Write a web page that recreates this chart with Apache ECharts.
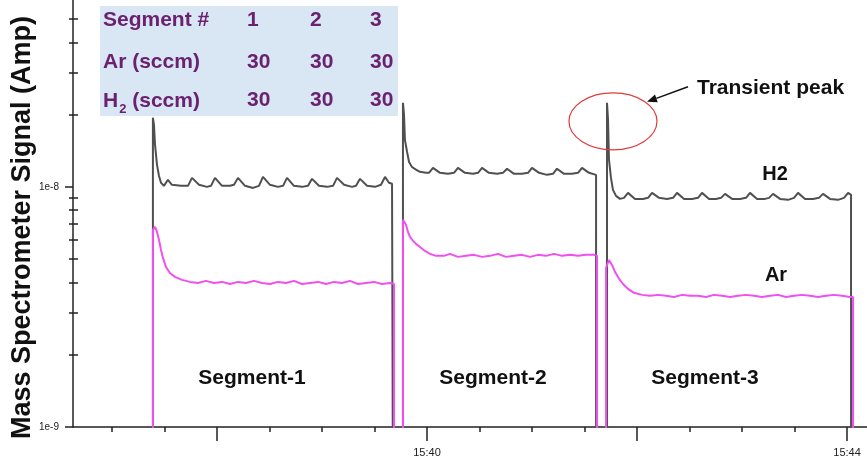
<!DOCTYPE html>
<html><head><meta charset="utf-8">
<script src="https://cdn.jsdelivr.net/npm/echarts@6/dist/echarts.min.js"></script>
<style>html,body{margin:0;padding:0;background:#fff}#c{width:867px;height:466px}</style>
</head><body><div id="c"></div>
<script>
// Time in minutes after 15:00, signal in Amp. BELOW = signal under the 1e-9 floor (off scale).
const BELOW = 5e-10;

const h2Segment1 = [[37.390,BELOW],[37.390,1.94e-8],[37.400,1.81e-8],[37.410,1.50e-8],[37.429,1.235e-8],[37.448,1.11e-8],[37.467,1.04e-8],[37.495,1.01e-8],[37.533,1.07e-8],[37.571,1.02e-8],
 [37.657,1.01e-8],[37.724,1.01e-8],[37.762,1.09e-8],[37.829,1.02e-8],[37.905,1.00e-8],[37.943,1.01e-8],[37.981,1.09e-8],[38.048,1.01e-8],[38.124,1.01e-8],[38.162,1.02e-8],
 [38.200,1.09e-8],[38.267,1.01e-8],[38.343,0.99e-8],[38.400,1.01e-8],[38.438,1.10e-8],[38.505,1.02e-8],[38.581,1.00e-8],[38.629,1.01e-8],[38.667,1.09e-8],[38.733,1.01e-8],
 [38.810,1.00e-8],[38.867,1.01e-8],[38.905,1.08e-8],[38.971,1.01e-8],[39.048,1.00e-8],[39.105,1.01e-8],[39.143,1.09e-8],[39.210,1.02e-8],[39.286,1.00e-8],[39.324,1.01e-8],
 [39.362,1.08e-8],[39.429,1.01e-8],[39.505,1.00e-8],[39.562,1.02e-8],[39.600,1.10e-8],[39.638,1.04e-8],[39.667,1.03e-8],[39.676,1.03e-8],[39.676,BELOW]];

const h2Segment2 = [[39.771,BELOW],[39.771,2.24e-8],[39.781,2.0e-8],[39.790,1.57e-8],[39.810,1.40e-8],[39.829,1.27e-8],[39.857,1.21e-8],[39.895,1.18e-8],[39.933,1.155e-8],[39.990,1.144e-8],
 [40.019,1.144e-8],[40.057,1.20e-8],[40.124,1.144e-8],[40.200,1.133e-8],[40.257,1.144e-8],[40.295,1.20e-8],[40.362,1.144e-8],[40.438,1.133e-8],[40.486,1.144e-8],[40.524,1.20e-8],
 [40.590,1.144e-8],[40.667,1.133e-8],[40.724,1.144e-8],[40.762,1.19e-8],[40.829,1.133e-8],[40.905,1.133e-8],[40.962,1.144e-8],[41.000,1.20e-8],[41.067,1.144e-8],[41.143,1.122e-8],
 [41.200,1.133e-8],[41.238,1.19e-8],[41.305,1.133e-8],[41.381,1.133e-8],[41.438,1.144e-8],[41.476,1.20e-8],[41.543,1.144e-8],[41.610,1.122e-8],[41.610,BELOW]];

const h2Segment3 = [[41.714,BELOW],[41.714,2.24e-8],[41.724,1.90e-8],[41.733,1.30e-8],[41.752,1.09e-8],[41.771,0.972e-8],[41.800,0.917e-8],[41.838,0.891e-8],[41.876,0.90e-8],[41.914,0.944e-8],
 [41.981,0.891e-8],[42.057,0.891e-8],[42.105,0.90e-8],[42.143,0.944e-8],[42.210,0.90e-8],[42.286,0.891e-8],[42.343,0.90e-8],[42.381,0.944e-8],[42.448,0.891e-8],[42.524,0.891e-8],
 [42.581,0.90e-8],[42.619,0.944e-8],[42.686,0.891e-8],[42.752,0.891e-8],[42.800,0.90e-8],[42.838,0.935e-8],[42.905,0.891e-8],[42.981,0.891e-8],[43.038,0.90e-8],[43.076,0.944e-8],
 [43.143,0.891e-8],[43.219,0.891e-8],[43.257,0.90e-8],[43.295,0.935e-8],[43.362,0.891e-8],[43.438,0.883e-8],[43.495,0.90e-8],[43.533,0.944e-8],[43.600,0.891e-8],[43.676,0.891e-8],
 [43.733,0.90e-8],[43.771,0.935e-8],[43.838,0.891e-8],[43.914,0.883e-8],[43.971,0.90e-8],[44.010,0.944e-8],[44.038,0.926e-8],[44.038,BELOW]];

const arSegment1 = [[37.390,BELOW],[37.390,0.662e-8],[37.410,0.681e-8],[37.429,0.649e-8],[37.448,0.601e-8],[37.467,0.546e-8],[37.486,0.506e-8],[37.514,0.464e-8],[37.552,0.438e-8],[37.600,0.422e-8],
 [37.667,0.410e-8],[37.743,0.402e-8],[37.819,0.398e-8],[37.895,0.406e-8],[37.971,0.398e-8],[38.048,0.402e-8],[38.124,0.394e-8],[38.200,0.402e-8],[38.276,0.398e-8],[38.352,0.406e-8],
 [38.429,0.398e-8],[38.505,0.394e-8],[38.581,0.402e-8],[38.657,0.398e-8],[38.733,0.406e-8],[38.810,0.394e-8],[38.886,0.398e-8],[38.962,0.402e-8],[39.038,0.394e-8],[39.114,0.402e-8],
 [39.190,0.398e-8],[39.267,0.406e-8],[39.343,0.394e-8],[39.419,0.398e-8],[39.495,0.402e-8],[39.571,0.394e-8],[39.648,0.398e-8],[39.686,0.394e-8],[39.686,BELOW]];

const arSegment2 = [[39.771,BELOW],[39.771,0.729e-8],[39.781,0.743e-8],[39.800,0.695e-8],[39.819,0.649e-8],[39.838,0.619e-8],[39.867,0.596e-8],[39.895,0.579e-8],[39.933,0.562e-8],[39.981,0.541e-8],
 [40.029,0.526e-8],[40.086,0.516e-8],[40.162,0.516e-8],[40.219,0.526e-8],[40.295,0.511e-8],[40.371,0.516e-8],[40.448,0.521e-8],[40.524,0.511e-8],[40.600,0.516e-8],[40.676,0.526e-8],
 [40.752,0.511e-8],[40.829,0.516e-8],[40.905,0.521e-8],[40.981,0.511e-8],[41.057,0.521e-8],[41.133,0.516e-8],[41.210,0.526e-8],[41.286,0.516e-8],[41.362,0.521e-8],[41.438,0.516e-8],
 [41.514,0.521e-8],[41.590,0.521e-8],[41.619,0.516e-8],[41.619,BELOW]];

const arSegment3 = [[41.705,BELOW],[41.705,0.460e-8],[41.733,0.496e-8],[41.762,0.473e-8],[41.790,0.443e-8],[41.829,0.414e-8],[41.867,0.394e-8],[41.914,0.376e-8],[41.971,0.362e-8],[42.048,0.355e-8],
 [42.124,0.352e-8],[42.200,0.355e-8],[42.276,0.352e-8],[42.352,0.348e-8],[42.429,0.355e-8],[42.505,0.352e-8],[42.581,0.352e-8],[42.657,0.348e-8],[42.733,0.355e-8],[42.810,0.352e-8],
 [42.886,0.348e-8],[42.962,0.352e-8],[43.038,0.355e-8],[43.114,0.352e-8],[43.190,0.348e-8],[43.267,0.352e-8],[43.343,0.355e-8],[43.419,0.348e-8],[43.495,0.352e-8],[43.571,0.355e-8],
 [43.648,0.352e-8],[43.724,0.348e-8],[43.800,0.352e-8],[43.876,0.355e-8],[43.952,0.352e-8],[44.029,0.348e-8],[44.057,0.348e-8],[44.057,BELOW]];

const xMinorTicks = [37, 37.5, 38.5, 39, 39.5, 40.5, 41, 41.5, 42.5, 43, 43.5];
const xMajorTicks = [38, 40, 42, 44];
const xTickLabels = [40, 44];
const yMinorTicks = [2e-9,3e-9,4e-9,5e-9,6e-9,7e-9,8e-9,9e-9,2e-8,3e-8,4e-8,5e-8];
const yMin = 1e-9, yMax = 6e-8;
const xMin = 36.629, xMax = 44.19;

const yTitle = 'Mass Spectrometer Signal (Amp)';
const tableRows = [
  ['Segment #', '1', '2', '3'],
  ['Ar (sccm)', '30', '30', '30'],
  ['{m|H}{s|2}{m| (sccm)}', '30', '30', '30']
];
const segmentNames = ['Segment-1', 'Segment-2', 'Segment-3'];
const peakNote = 'Transient peak';
const seriesNames = ['H2', 'Ar'];

const FONT = '"Liberation Sans", Arial, Helvetica, sans-serif';
const AX = '#222';

const chart = echarts.init(document.getElementById('c'));
chart.setOption({
  animation: false,
  backgroundColor: '#fff',
  grid: { left: 73, right: 0, top: 0, bottom: 39, containLabel: false, outerBoundsMode: 'none' },
  xAxis: [{
    type: 'value', min: xMin, max: xMax,
    axisLine: { onZero: false, lineStyle: { color: AX, width: 1.5 } },
    axisTick: { customValues: xMinorTicks, length: 5, lineStyle: { color: AX, width: 1.5 } },
    axisLabel: { customValues: xTickLabels, margin: 20, fontSize: 11, color: AX, fontFamily: FONT,
      formatter: v => '15:' + String(Math.round(v)).padStart(2, '0') },
    splitLine: { show: false }
  }, {
    type: 'value', min: xMin, max: xMax, position: 'bottom',
    axisLine: { show: false },
    axisTick: { customValues: xMajorTicks, length: 14, lineStyle: { color: AX, width: 1.5 } },
    axisLabel: { show: false }, splitLine: { show: false }
  }],
  yAxis: [{
    type: 'log', logBase: 10, min: yMin, max: yMax,
    name: yTitle, nameLocation: 'middle', nameGap: 37, nameMoveOverlap: false,
    nameTextStyle: { fontSize: 27, fontWeight: 'bold', color: '#111', fontFamily: FONT, padding: [0, 28, 0, 0] },
    axisLine: { show: true, onZero: false, lineStyle: { color: AX, width: 1.5 } },
    axisTick: { length: 8, lineStyle: { color: AX, width: 1.5 } },
    axisLabel: { showMaxLabel: false, margin: 14, fontSize: 10, color: AX, fontFamily: FONT,
      formatter: v => '1e' + Math.round(Math.log10(v)) },
    splitLine: { show: false }
  }, {
    type: 'value', min: -9, max: Math.log10(yMax), position: 'left',
    axisLine: { show: false },
    axisTick: { customValues: yMinorTicks.map(Math.log10), length: 4, lineStyle: { color: AX, width: 1.5 } },
    axisLabel: { show: false }, splitLine: { show: false }
  }, {
    type: 'value', min: -9, max: Math.log10(yMax), position: 'left',
    axisLine: { show: false },
    axisTick: { inside: true, customValues: yMinorTicks.map(Math.log10), length: 5, lineStyle: { color: AX, width: 1.5 } },
    axisLabel: { show: false }, splitLine: { show: false }
  }],
  series: [{
    type: 'line', name: seriesNames[0], data: h2Segment1.concat(h2Segment2, h2Segment3),
    xAxisIndex: 0, yAxisIndex: 0, symbol: 'none', showSymbol: false, clip: true, z: 2,
    lineStyle: { color: '#505050', width: 2 }, itemStyle: { color: '#505050' }
  }, {
    type: 'line', name: seriesNames[1], data: arSegment1.concat(arSegment2, arSegment3),
    xAxisIndex: 0, yAxisIndex: 0, symbol: 'none', showSymbol: false, clip: true, z: 3,
    lineStyle: { color: '#f050f0', width: 2 }, itemStyle: { color: '#f050f0' }
  }]
});

// Annotations
const purple = '#6a2270';
const g = [];
g.push({ type: 'rect', z: 50, shape: { x: 100, y: 6, width: 298, height: 110 }, style: { fill: '#d9e6f3' } });
const rowY = [20, 62, 100];
const colX = [103, 247, 310, 370];
tableRows.forEach((row, r) => row.forEach((cell, c) => {
  const isRich = cell.indexOf('{') >= 0;
  g.push({ type: 'text', z: 51, x: colX[c], y: rowY[r] + (isRich ? 3 : 0),
    style: { text: cell, fill: purple, fontSize: 21, fontWeight: 'bold', fontFamily: FONT, align: 'left', verticalAlign: 'middle',
      rich: isRich ? {
        m: { fontSize: 21, fontWeight: 'bold', fontFamily: FONT, fill: purple, verticalAlign: 'top' },
        s: { fontSize: 13, fontWeight: 'bold', fontFamily: FONT, fill: purple, verticalAlign: 'top', padding: [12, 0, 0, 1] }
      } : undefined }
  });
}));
const segX = [252, 493, 705];
segmentNames.forEach((s, i) => g.push({ type: 'text', z: 51, x: segX[i], y: 378,
  style: { text: s, fill: '#111', fontSize: 21, fontWeight: 'bold', fontFamily: FONT, align: 'center', verticalAlign: 'middle' } }));
g.push({ type: 'text', z: 51, x: 775, y: 174, style: { text: seriesNames[0], fill: '#111', fontSize: 20, fontWeight: 'bold', fontFamily: FONT, align: 'center', verticalAlign: 'middle' } });
g.push({ type: 'text', z: 51, x: 776, y: 275, style: { text: seriesNames[1], fill: '#111', fontSize: 20, fontWeight: 'bold', fontFamily: FONT, align: 'center', verticalAlign: 'middle' } });
g.push({ type: 'text', z: 51, x: 697, y: 88, style: { text: peakNote, fill: '#111', fontSize: 21, fontWeight: 'bold', fontFamily: FONT, align: 'left', verticalAlign: 'middle' } });

const c = chart.convertToPixel({ xAxisIndex: 0, yAxisIndex: 0 }, [41.771, 1.875e-8]);
g.push({ type: 'ellipse', z: 52, shape: { cx: c[0], cy: c[1], rx: 44, ry: 28.5 }, style: { fill: 'none', stroke: '#e03a3a', lineWidth: 1.2 } });
const tip = [c[0] + 34, c[1] - 19.5];
const tail = [tip[0] + 41, tip[1] - 15];
const L = Math.hypot(tail[0] - tip[0], tail[1] - tip[1]);
const dx = (tail[0] - tip[0]) / L, dy = (tail[1] - tip[1]) / L;
const bx = tip[0] + dx * 10, by = tip[1] + dy * 10;
g.push({ type: 'line', z: 52, shape: { x1: tail[0], y1: tail[1], x2: bx, y2: by }, style: { stroke: '#111', lineWidth: 1.5 } });
g.push({ type: 'polygon', z: 52, shape: { points: [tip, [bx - dy * 4, by + dx * 4], [bx + dy * 4, by - dx * 4]] }, style: { fill: '#111' } });

chart.setOption({ graphic: g });
</script>
</body></html>
